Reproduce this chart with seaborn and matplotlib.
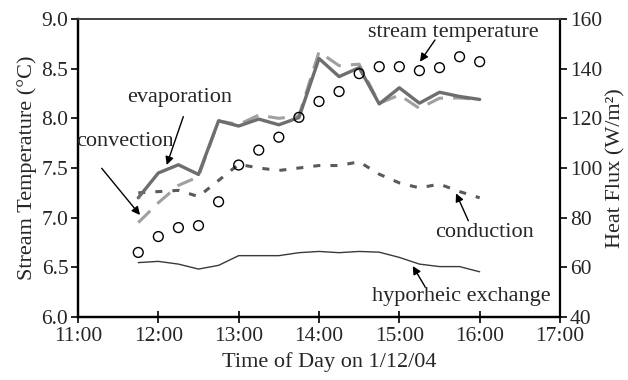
import matplotlib
matplotlib.use("Agg")
import matplotlib.pyplot as plt
import seaborn as sns
import numpy as np
import pandas as pd

# ---- data ----
times = ["11:45", "12:00", "12:15", "12:30", "12:45", "13:00", "13:15", "13:30", "13:45",
         "14:00", "14:15", "14:30", "14:45", "15:00", "15:15", "15:30", "15:45", "16:00"]
stream_temp = [6.65, 6.81, 6.90, 6.92, 7.16, 7.53, 7.68, 7.81, 8.01,
               8.17, 8.27, 8.45, 8.52, 8.52, 8.48, 8.51, 8.62, 8.57]
evaporation = [88.0, 98.0, 101.3, 97.4, 119.0, 116.9, 119.7, 117.4, 120.3,
               144.1, 136.8, 140.4, 125.8, 132.3, 126.1, 130.5, 128.8, 127.6]
convection = [78.0, 86.0, 93.0, 96.5, 119.0, 117.5, 121.3, 120.0, 121.0,
              146.8, 141.2, 141.8, 126.0, 129.4, 124.0, 128.1, 128.2, 127.6]
conduction = [90.0, 90.5, 91.0, 88.5, 95.0, 101.5, 100.0, 99.0, 100.0,
              101.0, 101.0, 102.5, 97.5, 94.0, 92.0, 93.5, 90.5, 88.0]
hyporheic = [61.9, 62.4, 61.3, 59.3, 60.8, 64.7, 64.7, 64.7, 65.9,
             66.4, 65.9, 66.4, 66.1, 64.0, 61.3, 60.3, 60.3, 58.2]
xtick_labels = ["11:00", "12:00", "13:00", "14:00", "15:00", "16:00", "17:00"]

hours = [int(t.split(":")[0]) + int(t.split(":")[1]) / 60 for t in times]
df = pd.DataFrame({"hour": hours, "stream": stream_temp, "evap": evaporation,
                   "conv": convection, "cond": conduction, "hypo": hyporheic})

sns.set_style("ticks")
plt.rcParams["font.family"] = ["Liberation Serif", "DejaVu Serif"]
FS_TICK = 15.5
FS = 16

fig = plt.figure(figsize=(6.28, 3.80), dpi=100)
ax = fig.add_axes([78 / 628, 63 / 380, (560 - 78) / 628, (317 - 19) / 380])
ax2 = ax.twinx()

# heat flux lines (right axis)
sns.lineplot(data=df, x="hour", y="hypo", ax=ax2, color="#3a3a3a", lw=1.0)
sns.lineplot(data=df, x="hour", y="cond", ax=ax2, color="#5a5a5a", lw=2.2,
             linestyle=(0, (2.3, 3.3)))
sns.lineplot(data=df, x="hour", y="conv", ax=ax2, color="#a0a0a0", lw=2.2,
             linestyle=(0, (5.5, 3.3)))
sns.lineplot(data=df, x="hour", y="evap", ax=ax2, color="#6e6e6e", lw=2.4)

# stream temperature (left axis)
sns.scatterplot(data=df, x="hour", y="stream", ax=ax, s=50, facecolor="none",
                edgecolor="black", linewidth=1.0, zorder=5)
ax.set_zorder(ax2.get_zorder() + 1)
ax.patch.set_visible(False)

ax.set_xlim(11, 17)
ax.set_ylim(6.0, 9.0)
ax2.set_ylim(40, 160)
ax.set_xticks(range(11, 18))
ax.set_xticklabels(xtick_labels)
ax.set_yticks(np.arange(6.0, 9.01, 0.5))
ax.set_yticklabels([f"{v:.1f}" for v in np.arange(6.0, 9.01, 0.5)])
ax2.set_yticks(range(40, 161, 20))

ax.set_xlabel("Time of Day on 1/12/04", fontsize=FS, labelpad=4)
ax.xaxis.label.set_x(0.522)
ax.set_ylabel("Stream Temperature (°C)", fontsize=FS, labelpad=3)
ax2.set_ylabel("Heat Flux (W/m²)", fontsize=FS)
ax2.yaxis.set_label_coords(1.096, 0.5)

for a in (ax, ax2):
    a.tick_params(labelsize=FS_TICK, width=1.2, length=5, direction="out", color="black", pad=2)
ax.tick_params(axis="x", direction="inout", length=9, pad=3)
for name in ("left", "bottom", "right"):
    ax.spines[name].set_linewidth(1.6)
    ax2.spines[name].set_linewidth(1.6)
    ax.spines[name].set_color("black")
    ax2.spines[name].set_color("black")
ax.spines["top"].set_visible(True)
ax2.spines["top"].set_visible(True)
ax2.spines["top"].set_color("#444444")
ax2.spines["top"].set_linewidth(1.3)
ax.spines["top"].set_color("#444444")
ax.spines["top"].set_linewidth(1.3)
ax.spines["right"].set_visible(False)

arrow = dict(arrowstyle="-|>", color="black", lw=1.0, mutation_scale=12, shrinkA=0, shrinkB=0)
labels = [
    ("stream temperature", (15.668, 8.869), (15.444, 8.789), (15.257, 8.570)),
    ("evaporation", (12.270, 8.205), (12.311, 8.017), (12.104, 7.530)),
    ("convection", (11.589, 7.765), (11.295, 7.497), (11.772, 7.027)),
    ("conduction", (16.054, 6.846), (15.859, 6.969), (15.706, 7.245)),
    ("hyporheic exchange", (15.768, 6.204), (15.320, 6.305), (15.167, 6.513)),
]
for txt, pos, tail, head in labels:
    ax.text(pos[0], pos[1], txt, fontsize=FS, ha="center", va="center", zorder=6)
    ax.annotate("", xy=head, xytext=tail, arrowprops=arrow, zorder=6)

fig.savefig("out.png", dpi=100)
